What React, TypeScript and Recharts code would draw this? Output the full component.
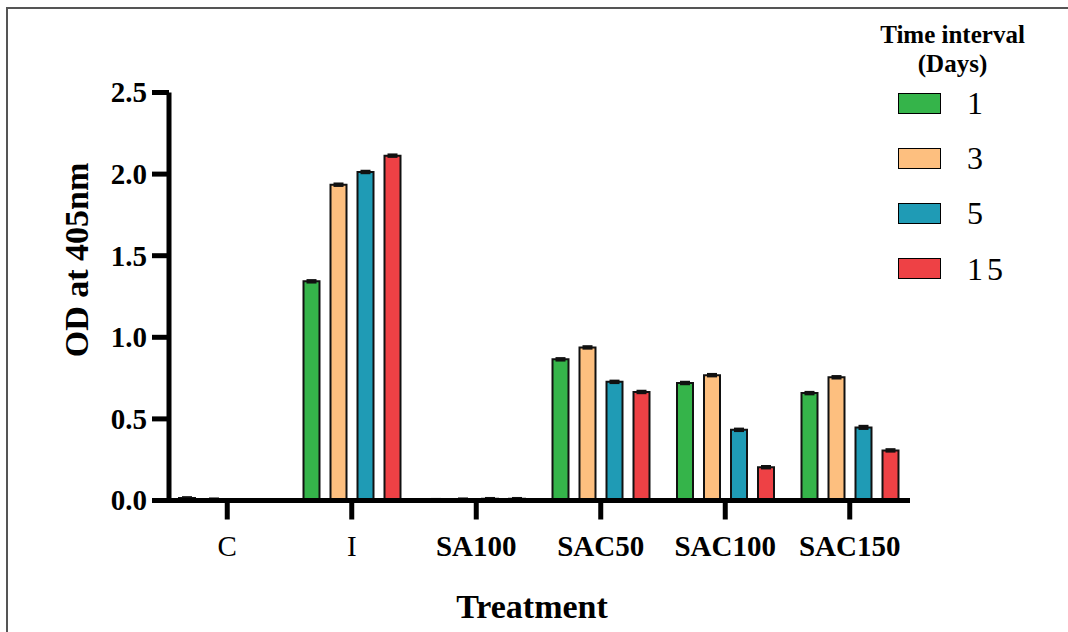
import { BarChart, Bar, XAxis, YAxis, ErrorBar, Label } from "recharts";

const categories = ["C", "I", "SA100", "SAC50", "SAC100", "SAC150"];
const day1 = [0.015, 1.343, 0.005, 0.865, 0.72, 0.658];
const day3 = [0.008, 1.935, 0.008, 0.938, 0.768, 0.755];
const day5 = [0, 2.013, 0.01, 0.727, 0.433, 0.448];
const day15 = [0, 2.113, 0.01, 0.665, 0.204, 0.307];
const err1 = [0.004, 0.006, 0.003, 0.006, 0.006, 0.006];
const err3 = [0.003, 0.006, 0.003, 0.006, 0.006, 0.006];
const err5 = [0, 0.006, 0.004, 0.006, 0.006, 0.008];
const err15 = [0, 0.006, 0.004, 0.006, 0.006, 0.006];
const yTicks = [0, 0.5, 1, 1.5, 2, 2.5];
const boldCats = ["SA100", "SAC50", "SAC100", "SAC150"];

const series = [
  { key: "d1", err: "e1", label: "1", color: "#35b44a" },
  { key: "d3", err: "e3", label: "3", color: "#fdbf7f" },
  { key: "d5", err: "e5", label: "5", color: "#1f9bb5" },
  { key: "d15", err: "e15", label: "15", color: "#ee4145" },
];

const data = categories.map((name, i) => ({
  name,
  d1: day1[i],
  d3: day3[i],
  d5: day5[i],
  d15: day15[i],
  e1: err1[i],
  e3: err3[i],
  e5: err5[i],
  e15: err15[i],
}));

const FONT = '"Liberation Serif", "Times New Roman", serif';

function YTick(props: any) {
  const { x, y, payload } = props;
  return (
    <text x={x} y={y} dy="0.34em" textAnchor="end" fontFamily={FONT} fontWeight="bold" fontSize={29} fill="#000">
      {payload.value.toFixed(1)}
    </text>
  );
}

function XTick(props: any) {
  const { x, y, payload } = props;
  const bold = boldCats.includes(payload.value);
  return (
    <text x={x} y={y + 34} textAnchor="middle" fontFamily={FONT} fontWeight={bold ? "bold" : "normal"} fontSize={29} fill="#000">
      {payload.value}
    </text>
  );
}

export default function App() {
  return (
    <div style={{ position: "absolute", left: 0, top: 0, width: 1068, height: 632, overflow: "hidden", background: "#fff" }}>
      <div
        style={{
          position: "absolute",
          left: 6,
          top: 7,
          width: 1070,
          height: 640,
          borderLeft: "2px solid #555",
          borderTop: "2px solid #555",
        }}
      />
      <BarChart
        width={1068}
        height={632}
        data={data}
        margin={{ top: 92.5, right: 158, bottom: 71.5, left: 109 }}
        barSize={16}
        barGap={11}
        style={{ position: "absolute", left: 0, top: 0 }}
      >
        <XAxis
          dataKey="name"
          height={60}
          padding={{ left: -4, right: -2 }}
          axisLine={{ stroke: "#000", strokeWidth: 5 }}
          tickLine={{ stroke: "#000", strokeWidth: 5 }}
          tickSize={19}
          tick={<XTick />}
          interval={0}
        >
          <Label
            content={() => (
              <text x={532} y={618} textAnchor="middle" fontFamily={FONT} fontWeight="bold" fontSize={34} fill="#000">
                Treatment
              </text>
            )}
          />
        </XAxis>
        <YAxis
          width={60}
          domain={[0, 2.5]}
          ticks={yTicks}
          allowDataOverflow
          axisLine={{ stroke: "#000", strokeWidth: 5 }}
          tickLine={{ stroke: "#000", strokeWidth: 5 }}
          tickSize={17}
          tickMargin={5}
          tick={<YTick />}
        >
          <Label
            content={() => (
              <text
                x={88}
                y={260}
                transform="rotate(-90 88 260)"
                textAnchor="middle"
                fontFamily={FONT}
                fontWeight="bold"
                fontSize={34}
                fill="#000"
              >
                OD at 405nm
              </text>
            )}
          />
        </YAxis>
        {series.map((s) => (
          <Bar key={s.key} dataKey={s.key} fill={s.color} stroke="#111" strokeWidth={2} isAnimationActive={false}>
            <ErrorBar dataKey={s.err} width={5} stroke="#111" strokeWidth={2.5} direction="y" />
          </Bar>
        ))}
      </BarChart>
      <div style={{ position: "absolute", left: 860, top: 20, width: 185, fontFamily: FONT, color: "#000" }}>
        <div style={{ textAlign: "center", fontWeight: "bold", fontSize: 25, lineHeight: "29px" }}>
          Time interval
          <br />
          (Days)
        </div>
      </div>
      {series.map((s, i) => (
        <div
          key={s.key}
          style={{ position: "absolute", left: 898, top: 92 + i * 55.2, height: 22, display: "flex", alignItems: "center" }}
        >
          <div style={{ width: 41, height: 19, background: s.color, border: "1.5px solid #000" }} />
          <span
            style={{ marginLeft: 26, fontFamily: FONT, fontSize: 32, lineHeight: "22px", letterSpacing: s.label.length > 1 ? 4 : 0 }}
          >
            {s.label}
          </span>
        </div>
      ))}
    </div>
  );
}
